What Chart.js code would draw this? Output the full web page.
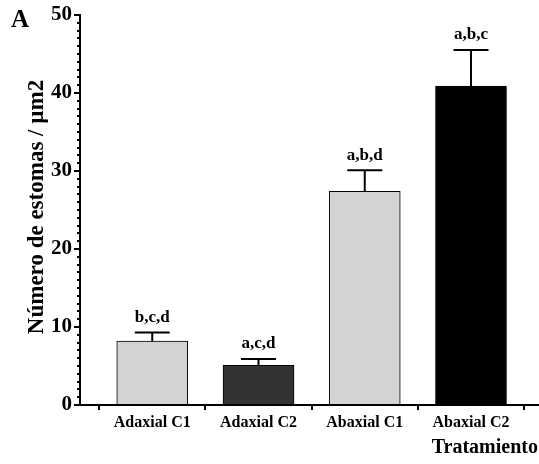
<!DOCTYPE html>
<html>
<head>
<meta charset="utf-8">
<script src="https://cdn.jsdelivr.net/npm/chart.js@4/dist/chart.umd.min.js"></script>
<style>
  html, body { margin: 0; padding: 0; background: #fff; }
  #wrap { width: 539px; height: 464px; position: relative; }
</style>
</head>
<body>
<div id="wrap"><canvas id="barChart"></canvas></div>
<script>
// Chart data
const categories = ['Adaxial C1', 'Adaxial C2', 'Abaxial C1', 'Abaxial C2']
const means = [8.2, 5.1, 27.4, 40.9]
const errors = [1.1, 0.8, 2.7, 4.6]
const letters = ['b,c,d', 'a,c,d', 'a,b,d', 'a,b,c']
const barColors = ['#d3d3d3', '#333333', '#d3d3d3', '#000000']
const yTicks = [0, 10, 20, 30, 40, 50]

const serif = "'Liberation Serif', 'Times New Roman', serif"

// error bars, letters, minor ticks, titles
const extras = {
    id: 'extras',
    afterDatasetsDraw(chart) {
        const ctx = chart.ctx
        const x = chart.scales.x
        const y = chart.scales.y
        ctx.save()
        ctx.strokeStyle = '#000'
        ctx.fillStyle = '#000'
        means.forEach((m, i) => {
            const cx = x.getPixelForValue(i + 1)
            const top = y.getPixelForValue(m)
            const hi = y.getPixelForValue(m + errors[i])
            ctx.lineWidth = 2
            ctx.beginPath()
            ctx.moveTo(cx, top)
            ctx.lineTo(cx, hi)
            ctx.moveTo(cx - 17.5, hi)
            ctx.lineTo(cx + 17.5, hi)
            ctx.stroke()
            ctx.font = 'bold 17px ' + serif
            ctx.textAlign = 'center'
            ctx.textBaseline = 'middle'
            ctx.fillText(letters[i], cx, hi - 15)
        })
        // minor ticks
        ctx.lineWidth = 2
        const left = chart.chartArea.left
        for (let v = 1; v < 50; v++) {
            if (v % 10 === 0) continue
            const py = Math.round(y.getPixelForValue(v))
            ctx.beginPath()
            ctx.moveTo(left - 3, py)
            ctx.lineTo(left, py)
            ctx.stroke()
        }
        // texts
        ctx.font = 'bold 25px ' + serif
        ctx.textAlign = 'left'
        ctx.textBaseline = 'middle'
        ctx.fillText('A', 11, 21)
        ctx.font = 'bold 20px ' + serif
        ctx.textAlign = 'right'
        ctx.fillText('Tratamiento', 538, 448)
        ctx.translate(37, 207)
        ctx.rotate(-Math.PI / 2)
        ctx.font = 'bold 23px ' + serif
        ctx.textAlign = 'center'
        ctx.fillText('Número de estomas / µm2', 0, 0)
        ctx.restore()
    }
}

const chartData = {
    datasets: [
        {
            data: means.map((m, i) => ({ x: i + 1, y: m })),
            backgroundColor: barColors,
            borderColor: '#000',
            borderWidth: 1,
            barThickness: 71,
            borderSkipped: 'bottom'
        }
    ]
}

const chartConfig = {
    type: 'bar',
    data: chartData,
    options: {
        responsive: false,
        animation: false,
        layout: { padding: { top: 15, right: 0, left: 0, bottom: 0 } },
        plugins: {
            legend: { display: false },
            tooltip: { enabled: false }
        },
        scales: {
            x: {
                type: 'linear',
                offset: false,
                min: 0.32,
                max: 4.64,
                afterBuildTicks: scale => {
                    scale.ticks = categories.map((c, i) => ({ value: i + 1 }))
                },
                afterFit: scale => { scale.height = 59 },
                grid: { drawOnChartArea: false, drawTicks: true, tickLength: 5, color: '#000', lineWidth: 2 },
                border: { color: '#000', width: 2 },
                ticks: {
                    color: '#000',
                    padding: 3,
                    maxRotation: 0,
                    autoSkip: false,
                    font: { family: serif, size: 16, weight: 'bold' },
                    callback: v => categories[v - 1]
                }
            },
            y: {
                min: 0,
                max: 50,
                afterBuildTicks: scale => {
                    scale.ticks = yTicks.map(v => ({ value: v }))
                },
                afterFit: scale => { scale.width = 80 },
                grid: { drawOnChartArea: false, drawTicks: true, tickLength: 6, color: '#000', lineWidth: 2 },
                border: { color: '#000', width: 2 },
                ticks: {
                    color: '#000',
                    padding: 2,
                    font: { family: serif, size: 21, weight: 'bold' }
                }
            }
        }
    },
    plugins: [extras]
}

const canvas = document.getElementById('barChart')
canvas.width = 539
canvas.height = 464
const ctx = canvas.getContext('2d')
const barChart = new Chart(ctx, chartConfig)
</script>
</body>
</html>
